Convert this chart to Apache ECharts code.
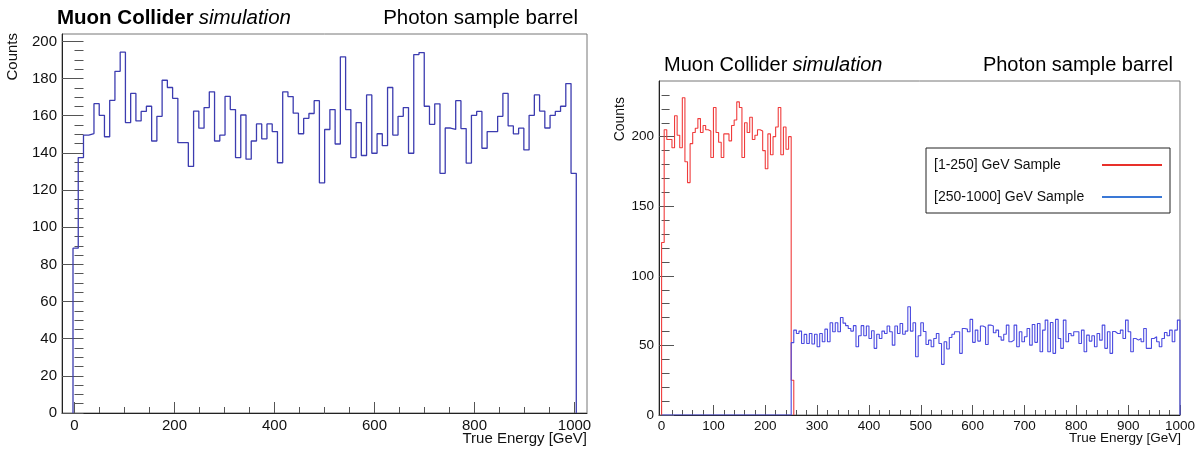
<!DOCTYPE html>
<html><head><meta charset="utf-8">
<script src="https://cdn.jsdelivr.net/npm/echarts@6/dist/echarts.min.js"></script>
<style>html,body{margin:0;padding:0;background:#fff}#c{width:1198px;height:450px}</style>
</head><body><div id="c"></div>
<script>
// ---------- data ----------
const leftBinLo = -3;
const leftBinWidth = 10.485;
const leftCounts = [88.7,137.5,149.6,150.4,166.5,160.2,148.7,168.3,183.9,194.2,
  156.3,172.0,157.2,162.3,165.1,146.4,159.7,179.1,175.2,169.4,
  145.5,145.5,132.7,162.5,153.3,164.4,172.9,146.4,149.6,170.4,
  163.3,137.5,160.4,136.6,146.4,155.6,147.6,155.6,151.5,134.7,
  172.9,170.3,161.4,150.3,158.6,161.2,168.1,123.9,152.6,163.3,
  144.8,191.7,163.3,137.5,156.3,138.6,171.2,139.8,150.3,143.9,
  175.2,149.6,159.7,164.4,139.8,192.9,194.0,165.1,155.4,166.4,
  129.0,153.4,152.6,168.1,153.1,134.5,160.2,162.3,142.5,151.5,
  151.5,159.7,172.0,154.5,150.2,153.3,141.6,160.2,171.2,162.5,
  153.4,160.2,162.3,165.1,177.3,129.0];

const redBinLo = 0;
const redBinWidth = 5;
const redCounts = [124,205,198,198,192,215,201,192,228,182,
  167,195,203,206,213,203,208,205,204,185,
  221,203,196,185,202,202,197,208,212,225,
  221,185,210,203,214,198,201,205,204,190,
  177,202,187,200,207,221,187,207,191,200,
  25];

const blueZeroFrom = 0;
const blueBinLo = 250;
const blueBinWidth = 5;
const blueCounts = [52,61,58.6,60.3,51.4,57.9,51.4,58.6,51,58,49,58.6,52.6,61.7,52.6,66.3,59.8,66.3,59.8,70.1,
  66,
  64.2,62.2,60.3,64.2,49,57,64.2,57,64,55,60.5,47.9,58,55,60.3,58.6,64,59.8,50.2,64,58.6,65.8,58,60.3,77.8,60.3,66.3,41.9,57,66.3,
  60,
  50.7,53.8,49,55,58.6,51.4,36.4,52.6,47.4,55.7,58,59.8,59.8,44.3,62.2,61.7,59.8,68.7,52.2,61,53.1,64,63,50.7,64.6,64,59.1,61,56.2,53.8,
  58,
  64.6,52.6,53.8,64.6,49,59.8,52.6,56.2,62.2,50.2,65,52.2,65.8,45.5,61,68.2,45.5,66.5,44.3,68.7,
  55,
  47.9,68.2,52.6,58.6,57,59.8,59.8,51.4,61,45.5,57.4,53.1,57,49,58.6,53.8,64.6,47.9,59.8,44.3,
  60,
  58.6,58.6,61,55,68.2,59.8,45.5,55,53.8,55,52.6,62.2,47.9,47.9,55,56.2,52.6,49,55,59.3,
  57,
  61,52.6,61,68.2];

const leftXTicks = [0,200,400,600,800,1000];
const leftYTicks = [0,20,40,60,80,100,120,140,160,180,200];
const rightXTicks = [0,100,200,300,400,500,600,700,800,900,1000];
const rightYTicks = [0,50,100,150,200];

const titleBold = 'Muon Collider';
const titleItalic = 'simulation';
const titleSample = 'Photon sample barrel';
const xTitle = 'True Energy [GeV]';
const yTitle = 'Counts';
const legendNames = ['[1-250] GeV Sample', '[250-1000] GeV Sample'];

// ---------- helpers ----------
function range(a, b, s) { const r = []; for (let v = a; v <= b + 1e-9; v += s) r.push(v); return r; }
function histPoints(start, lo, w, counts) {
  const pts = [[start, 0]];
  counts.forEach((c, i) => pts.push([lo + i * w, c]));
  pts.push([lo + counts.length * w, 0]);
  return pts;
}
const leftXMinor = range(0, 1000, 50);
const leftYMinor = range(0, 200, 5);
const rightXMinor = range(0, 1000, 20);
const rightYMinor = range(0, 230, 10);

const FONT = 'Liberation Sans, Arial, Helvetica, sans-serif';
const G0 = { left: 62, top: 34, width: 525, height: 379 };
const G1 = { left: 659, top: 81, width: 523, height: 334 };
const plain = v => String(v);

function xMajor(grid, min, max, ticks, tickLen, fs, margin) {
  return { gridIndex: grid, type: 'value', min, max, position: 'bottom',
    axisLine: { show: true, onZero: false, lineStyle: { color: '#222', width: 1 } },
    axisTick: { show: true, inside: true, length: tickLen, customValues: ticks, lineStyle: { color: '#555' } },
    axisLabel: { customValues: ticks, fontSize: fs, color: '#111', margin, fontFamily: FONT, formatter: plain },
    splitLine: { show: false } };
}
function xMinor(grid, min, max, ticks, tickLen) {
  return { gridIndex: grid, type: 'value', min, max, position: 'bottom',
    axisLine: { show: false },
    axisTick: { show: true, inside: true, length: tickLen, customValues: ticks, lineStyle: { color: '#555' } },
    axisLabel: { show: false }, splitLine: { show: false } };
}
function yMajor(grid, min, max, ticks, tickLen, fs, margin) {
  return { gridIndex: grid, type: 'value', min, max, position: 'left',
    axisLine: { show: true, onZero: false, lineStyle: { color: '#222', width: 1 } },
    axisTick: { show: true, inside: true, length: tickLen, customValues: ticks, lineStyle: { color: '#555' } },
    axisLabel: { customValues: ticks, fontSize: fs, color: '#111', margin, fontFamily: FONT, formatter: plain },
    splitLine: { show: false } };
}
function yMinor(grid, min, max, ticks, tickLen) {
  return { gridIndex: grid, type: 'value', min, max, position: 'left',
    axisLine: { show: false },
    axisTick: { show: true, inside: true, length: tickLen, customValues: ticks, lineStyle: { color: '#555' } },
    axisLabel: { show: false }, splitLine: { show: false } };
}

const chart = echarts.init(document.getElementById('c'), null, { renderer: 'canvas' });
chart.setOption({
  animation: false,
  backgroundColor: '#fff',
  textStyle: { fontFamily: FONT },
  grid: [
    Object.assign({ show: true, borderColor: '#777', borderWidth: 1, backgroundColor: 'transparent' }, G0),
    Object.assign({ show: true, borderColor: '#777', borderWidth: 1, backgroundColor: 'transparent' }, G1)
  ],
  xAxis: [
    xMajor(0, -25, 1025, leftXTicks, 11, 15, 5),
    xMinor(0, -25, 1025, leftXMinor, 6),
    xMajor(1, -5, 1000, rightXTicks, 10, 13.5, 4),
    xMinor(1, -5, 1000, rightXMinor, 5)
  ],
  yAxis: [
    yMajor(0, 0, 204, leftYTicks, 16, 15, 5),
    yMinor(0, 0, 204, leftYMinor, 9),
    yMajor(1, 0, 240, rightYTicks, 15, 13.5, 5),
    yMinor(1, 0, 240, rightYMinor, 8)
  ],
  title: [
    { text: '{b|' + titleBold + '} {i|' + titleItalic + '}', left: 52, top: 3,
      textStyle: { fontFamily: FONT, color: '#000', fontWeight: 'normal', rich: {
        b: { fontWeight: 'bold', fontSize: 20.5, fontFamily: FONT, color: '#000' },
        i: { fontStyle: 'italic', fontWeight: 'normal', fontSize: 20.5, fontFamily: FONT, color: '#000' } } } },
    { text: titleSample, right: 1198 - 583, top: 3,
      textStyle: { fontFamily: FONT, fontSize: 20.5, fontWeight: 'normal', color: '#000' } },
    { text: '{r|Muon Collider} {i|' + titleItalic + '}', left: 659, top: 50,
      textStyle: { fontFamily: FONT, color: '#000', fontWeight: 'normal', rich: {
        r: { fontSize: 20, fontWeight: 'normal', fontFamily: FONT, color: '#000' },
        i: { fontStyle: 'italic', fontWeight: 'normal', fontSize: 20, fontFamily: FONT, color: '#000' } } } },
    { text: titleSample, right: 1198 - 1178, top: 50,
      textStyle: { fontFamily: FONT, fontSize: 20, fontWeight: 'normal', color: '#000' } }
  ],
  legend: {
    orient: 'vertical', left: 926, top: 148, align: 'right',
    backgroundColor: '#fff', borderColor: '#222', borderWidth: 1,
    padding: [10, 8, 9, 8], itemGap: 18, itemWidth: 60, itemHeight: 2, icon: 'rect',
    selectedMode: false,
    data: [
      { name: legendNames[0], itemStyle: { color: '#e8302a' } },
      { name: legendNames[1], itemStyle: { color: '#3a78d6' } }
    ],
    formatter: n => '{t|' + n + '}',
    textStyle: { fontSize: 14, color: '#111', fontFamily: FONT,
      rich: { t: { width: 163, align: 'left', fontSize: 14, fontFamily: FONT, color: '#111' } } }
  },
  graphic: [
    { type: 'text', x: 13, y: 33, rotation: Math.PI / 2,
      style: { text: yTitle, font: '15px ' + FONT, fill: '#111', align: 'right', verticalAlign: 'middle' } },
    { type: 'text', x: 620, y: 97, rotation: Math.PI / 2,
      style: { text: yTitle, font: '14px ' + FONT, fill: '#111', align: 'right', verticalAlign: 'middle' } },
    { type: 'text', x: 587, y: 439,
      style: { text: xTitle, font: '15px ' + FONT, fill: '#111', align: 'right', verticalAlign: 'middle' } },
    { type: 'text', x: 1181, y: 438,
      style: { text: xTitle, font: '13.5px ' + FONT, fill: '#111', align: 'right', verticalAlign: 'middle' } }
  ],
  series: [
    { type: 'line', name: 'left', xAxisIndex: 0, yAxisIndex: 0, step: 'end', symbol: 'none',
      data: histPoints(leftBinLo, leftBinLo, leftBinWidth, leftCounts),
      lineStyle: { color: '#3c3cb0', width: 1.3 }, itemStyle: { color: '#3c3cb0' }, z: 3 },
    { type: 'line', name: legendNames[0], xAxisIndex: 2, yAxisIndex: 2, step: 'end', symbol: 'none',
      data: histPoints(redBinLo, redBinLo, redBinWidth, redCounts),
      lineStyle: { color: '#f03c3c', width: 1.1 }, itemStyle: { color: '#e8302a' }, z: 3 },
    { type: 'line', name: legendNames[1], xAxisIndex: 2, yAxisIndex: 2, step: 'end', symbol: 'none',
      data: histPoints(blueZeroFrom, blueBinLo, blueBinWidth, blueCounts),
      lineStyle: { color: '#4a4ae0', width: 1.1 }, itemStyle: { color: '#3a78d6' }, z: 4 }
  ]
});
</script></body></html>
